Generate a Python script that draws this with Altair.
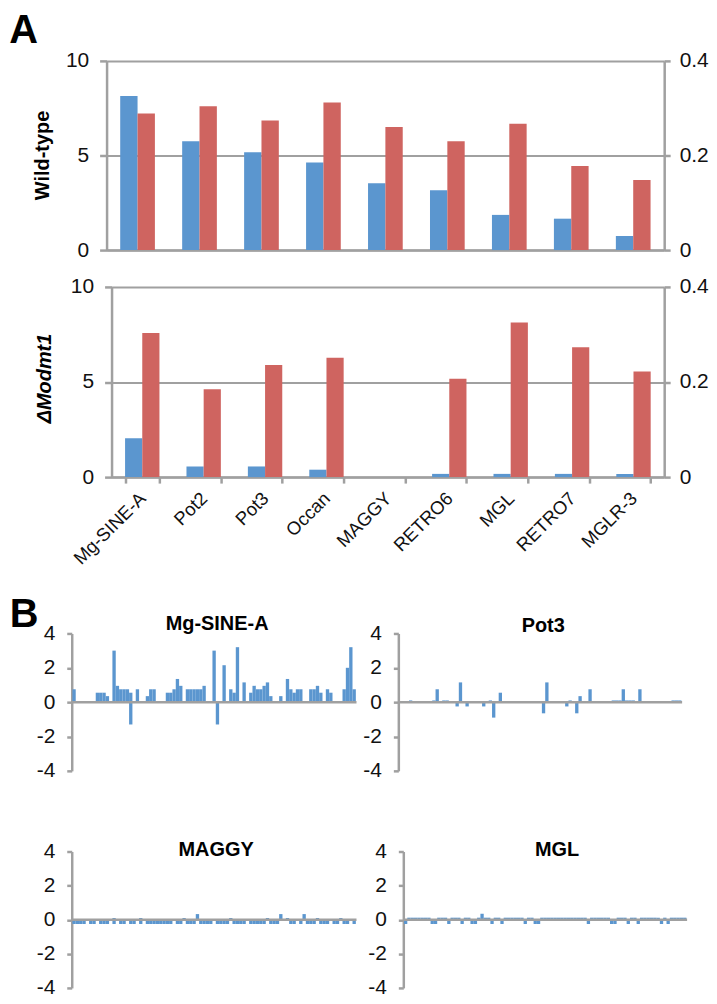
import altair as alt
import pandas as pd

# ---------------- data ----------------
genes = ["Mg-SINE-A", "Pot2", "Pot3", "Occan", "MAGGY", "RETRO6", "MGL", "RETRO7", "MGLR-3"]
wt_blue = [8.15, 5.75, 5.17, 4.63, 3.53, 3.16, 1.86, 1.66, 0.74]
wt_red = [0.289, 0.304, 0.274, 0.312, 0.26, 0.23, 0.267, 0.178, 0.148]
mut_blue = [2.05, 0.56, 0.56, 0.39, 0.0, 0.17, 0.17, 0.17, 0.17]
mut_red = [0.303, 0.185, 0.236, 0.251, 0.0, 0.207, 0.325, 0.273, 0.222]
left_ticks = [0, 5, 10]
right_ticks = [0, 0.2, 0.4]
b_ticks = [-4, -2, 0, 2, 4]

sine_pos = [0.75, 0, 0, 0, 0, 0, 0, 0.55, 0.55, 0.55,
            0.35, 0, 3.0, 0.95, 0.75, 0.75, 0.75, 0.55, 0, 0.75,
            0, 0, 0.35, 0.75, 0.75, 0, 0, 0, 0.55, 0.55,
            0.75, 1.35, 0.95, 0, 0.75, 0.75, 0.75, 0.75, 0.75, 0.95,
            0, 0, 3.0, 0, 0, 2.15, 0, 0.75, 0.55, 3.2,
            0, 1.15, 0, 0.55, 0.95, 0.75, 0.75, 0.95, 1.15, 0.35,
            0, 0, 0.35, 0, 1.35, 0.75, 0.55, 0.75, 0.75, 0,
            0, 0.75, 0.75, 0.95, 0.55, 0, 0.75, 0.55, 0, 0,
            0, 0.75, 2.0, 3.2, 0.75]
sine_neg = [0, 0, 0, 0, 0, 0, 0, 0, 0, 0,
            0, 0, 0, 0, 0, 0, 0, -1.3, 0, 0,
            0, 0, 0, 0, 0, 0, 0, 0, 0, 0,
            0, 0, 0, 0, 0, 0, 0, 0, 0, 0,
            0, 0, 0, -1.3, 0, 0, 0, 0, 0, 0,
            0, 0, 0, 0, 0, 0, 0, 0, 0, 0,
            0, 0, 0, 0, 0, 0, 0, 0, 0, 0,
            0, 0, 0, 0, 0, 0, 0, 0, 0, 0,
            0, 0, 0, 0, 0]

pot3_pos = [0, 0, 0, 0.1, 0, 0, 0, 0, 0, 0,
            0.1, 0.75, 0, 0.1, 0.1, 0, 0, 0, 1.15, 0,
            0, 0, 0, 0, 0, 0, 0, 0.1, 0, 0,
            0.55, 0, 0, 0, 0, 0, 0, 0, 0, 0,
            0, 0, 0, 0, 1.15, 0, 0, 0, 0, 0,
            0, 0.1, 0, 0, 0.35, 0, 0, 0.75, 0, 0,
            0, 0, 0, 0, 0.1, 0.1, 0.1, 0.75, 0.1, 0.1,
            0.1, 0, 0.75, 0, 0, 0, 0, 0, 0, 0,
            0, 0, 0.1, 0.1, 0.1]
pot3_neg = [0, 0, 0, 0, 0, 0, 0, 0, 0, 0,
            0, 0, 0, 0, 0, 0, 0, -0.25, 0, 0,
            -0.25, 0, 0, 0, 0, -0.25, 0, 0, -0.9, 0,
            0, 0, 0, 0, 0, 0, 0, 0, 0, 0,
            0, 0, 0, -0.65, 0, 0, 0, 0, 0, 0,
            -0.25, 0, 0, -0.65, 0, 0, 0, 0, 0, 0,
            0, 0, 0, 0, 0, 0, 0, 0, 0, 0,
            0, 0, 0, 0, 0, 0, 0, 0, 0, 0,
            0, 0, 0, 0, 0]

maggy_pos = [0, 0, 0, 0, 0, 0, 0, 0, 0, 0,
             0, 0, 0.1, 0, 0, 0, 0, 0, 0, 0,
             0.1, 0, 0, 0, 0, 0, 0, 0, 0, 0,
             0, 0, 0, 0.1, 0, 0, 0, 0.33, 0, 0,
             0, 0, 0, 0, 0, 0, 0, 0.1, 0, 0,
             0, 0, 0, 0, 0, 0, 0, 0, 0.1, 0,
             0, 0, 0.33, 0, 0.1, 0, 0, 0, 0, 0.33,
             0, 0, 0, 0.1, 0, 0, 0, 0, 0, 0,
             0.1, 0, 0, 0, 0]
maggy_neg = [-0.25, -0.25, -0.25, -0.25, 0, -0.25, -0.25, 0, -0.25, -0.25,
             -0.25, 0, -0.25, 0, -0.25, -0.25, 0, -0.25, -0.25, 0,
             -0.25, 0, -0.25, -0.25, -0.25, -0.25, -0.25, -0.25, -0.25, -0.25,
             0, -0.25, -0.25, 0, -0.25, -0.25, -0.25, 0, -0.25, -0.25,
             -0.25, -0.25, 0, -0.25, -0.25, -0.25, -0.25, 0, -0.25, -0.25,
             -0.25, -0.25, 0, -0.25, -0.25, -0.25, -0.25, -0.25, 0, -0.25,
             -0.25, -0.25, 0, 0, 0, -0.25, -0.25, 0, -0.25, 0,
             -0.25, -0.25, -0.25, 0, -0.25, -0.25, -0.25, 0, -0.25, -0.25,
             0, -0.25, -0.25, 0, -0.25]

mgl_pos = [0, 0.12, 0.12, 0.12, 0.12, 0.12, 0.12, 0.12, 0, 0,
           0.12, 0.12, 0.12, 0, 0.12, 0.12, 0.12, 0, 0.12, 0.12,
           0, 0, 0.12, 0.35, 0.12, 0.12, 0, 0.12, 0.12, 0,
           0.12, 0.12, 0.12, 0.12, 0.12, 0.12, 0, 0.12, 0.12, 0,
           0, 0.12, 0.12, 0.12, 0.12, 0.12, 0.12, 0.12, 0.12, 0.12,
           0.12, 0.12, 0.12, 0.12, 0.12, 0, 0.12, 0.12, 0.12, 0.12,
           0.12, 0.12, 0, 0, 0.12, 0.12, 0.12, 0, 0.12, 0.12,
           0, 0.12, 0.12, 0.12, 0.12, 0.12, 0.12, 0, 0.12, 0,
           0.12, 0.12, 0.12, 0.12, 0.12]
mgl_neg = [-0.25, 0, 0, 0, 0, 0, 0, 0, -0.25, -0.25,
           0, 0, 0, -0.25, 0, 0, 0, -0.25, 0, 0,
           -0.25, -0.25, 0, 0, 0, 0, -0.25, 0, 0, -0.25,
           0, 0, 0, 0, 0, 0, -0.25, 0, 0, -0.25,
           -0.25, 0, 0, 0, 0, 0, 0, 0, 0, 0,
           0, 0, 0, 0, 0, -0.25, 0, 0, 0, 0,
           0, 0, -0.25, -0.25, 0, 0, 0, -0.25, 0, 0,
           -0.25, 0, 0, 0, 0, 0, 0, -0.25, 0, -0.25,
           0, 0, 0, 0, 0]

for arr in [sine_pos, sine_neg, pot3_pos, pot3_neg, maggy_pos, maggy_neg, mgl_pos, mgl_neg]:
    assert len(arr) == 85, len(arr)

# ---------------- style ----------------
BLUE = "#5b96cf"
RED = "#cf6460"
GREY = "#a0a0a0"
INK = "#111111"
FONT = "Liberation Sans"

AX = dict(domainColor=GREY, domainWidth=2.5, tickColor=GREY, tickWidth=2.5,
          labelFont=FONT, labelFontSize=21, labelColor=INK, title=None, labelOverlap=False)


def one():
    return alt.Data(values=[{"k": 1}])


def box_layer(left, top, width, height, right, bottom):
    # invisible frame that fixes the layout bounds of a panel
    return alt.Chart(one()).mark_rect(fill="transparent", strokeOpacity=0).encode(
        x=alt.value(-left), x2=alt.value(width + right),
        y=alt.value(-top), y2=alt.value(height + bottom))


def spacer():
    return alt.Chart(one()).mark_rect(fill="transparent", strokeOpacity=0).encode(
        x=alt.value(0), x2=alt.value(1), y=alt.value(0), y2=alt.value(1)
    ).properties(width=1, height=1)


def text_layer(text, x, y, size, weight="bold", style="normal", angle=0,
               align="center", baseline="alphabetic"):
    return alt.Chart(one()).mark_text(
        text=text, font=FONT, fontSize=size, fontWeight=weight, fontStyle=style,
        angle=angle, align=align, baseline=baseline, color="#000"
    ).encode(x=alt.value(x), y=alt.value(y))


def panel_a(blue, red, width, height, ytitle, ystyle, tx, ty, box, with_labels, letter=None):
    n = len(genes)
    df = pd.DataFrame({"gene": genes + genes,
                       "series": ["left"] * n + ["right"] * n,
                       "value": blue + red})
    if with_labels:
        xaxis = alt.Axis(title=None, labelAngle=-45, labelFontSize=18.5, labelFont=FONT,
                         labelColor=INK, labelPadding=12, labelAlign="right",
                         labelBaseline="middle", ticks=True, tickBand="extent",
                         tickSize=6, tickColor=GREY, tickWidth=2.5, domainColor=GREY,
                         domainWidth=2.5, labelOverlap=False)
    else:
        xaxis = alt.Axis(title=None, labels=False, ticks=False, domainColor=GREY, domainWidth=2.5)
    x = alt.X("gene:N", sort=genes, axis=xaxis,
              scale=alt.Scale(paddingInner=0.44, paddingOuter=0.22))
    xo = alt.XOffset("series:N", scale=alt.Scale(domain=["left", "right"], paddingInner=0, paddingOuter=0))
    left = alt.Chart(df).transform_filter("datum.series == 'left'").mark_bar(color=BLUE).encode(
        x=x, xOffset=xo,
        y=alt.Y("value:Q", scale=alt.Scale(domain=[0, 10], nice=False),
                axis=alt.Axis(values=left_ticks, grid=True, gridColor=GREY, gridWidth=2,
                              tickSize=7, labelPadding=11, **AX)))
    right = alt.Chart(df).transform_filter("datum.series == 'right'").mark_bar(color=RED).encode(
        x=x, xOffset=xo,
        y=alt.Y("value:Q", scale=alt.Scale(domain=[0, 0.4], nice=False),
                axis=alt.Axis(values=right_ticks, grid=False, orient="right", format="~g",
                              tickSize=6, labelPadding=9, **AX)))
    layers = [left, right, box_layer(*box),
              text_layer(ytitle, tx, ty, 20, style=ystyle, angle=270, baseline="middle")]
    if letter is not None:
        layers.append(letter)
    return alt.layer(*layers).resolve_scale(y="independent").properties(width=width, height=height)


def b_axis():
    return alt.Axis(values=b_ticks, grid=False, tickSize=5, labelPadding=12,
                    labelExpr="datum.value + ''", **AX)


def b_scale():
    return alt.Scale(domain=[-4, 4], nice=False)


def panel_b(name, pos, neg, width, height, box, tdx, ty, letter=None):
    n = len(pos)
    df = pd.DataFrame({"bin": list(range(n)) + list(range(n)), "value": pos + neg})
    bars = alt.Chart(df).mark_bar(color=BLUE).encode(
        x=alt.X("bin:O", axis=None, scale=alt.Scale(paddingInner=0, paddingOuter=0.2)),
        y=alt.Y("value:Q", stack=None, scale=b_scale(), axis=b_axis()))
    zero = alt.Chart(one()).mark_rule(color=GREY, strokeWidth=2.5).encode(
        y=alt.YDatum(0, scale=b_scale(), axis=b_axis()))
    layers = [bars, zero, box_layer(*box), text_layer(name, width / 2 + tdx, ty, 20)]
    if letter is not None:
        layers.append(letter)
    return alt.layer(*layers).properties(width=width, height=height)


# plot-left targets (page px): row1 106.7, row2 111.7, B1/B3 71.3 ; row origin at page 8 + spacer 1
row1 = panel_a(wt_blue, wt_red, 560, 190, "Wild-type", "normal", -64, 95,
               (97.7, 50.3, 560, 190, 0, 12.7), False,
               letter=text_layer("A", -97.7, -50.3, 40, align="left", baseline="top"))
row2 = panel_a(mut_blue, mut_red, 555, 191, "ΔModmt1", "italic", -66.5, 92,
               (102.7, 24, 555, 191, 0, 112.3), True)

b1 = panel_b("Mg-SINE-A", sine_pos, sine_neg, 286, 138, (62.3, 43.3, 286, 138, 2.7, 38), 3, -3,
             letter=text_layer("B", -62.3, -38.3, 40, align="left", baseline="top"))
b2 = panel_b("Pot3", pot3_pos, pot3_neg, 285, 138, (38.3, 43.3, 285, 138, 0, 38), 3, -1)
b3 = panel_b("MAGGY", maggy_pos, maggy_neg, 286, 137, (62.3, 42.3, 286, 137, 2.7, 10), 2, 4.5)
b4 = panel_b("MGL", mgl_pos, mgl_neg, 285, 137, (43.3, 42.3, 285, 137, 0, 10), 12, 5)


def row(*charts):
    return alt.hconcat(spacer(), *charts, spacing=0).resolve_scale(
        x="independent", y="independent", xOffset="independent")


chart = alt.vconcat(row(row1), row(row2), row(b1, b2), row(b3, b4), spacing=0).resolve_scale(
    x="independent", y="independent", xOffset="independent"
).properties(padding=0).configure_view(stroke=None)

chart.save("out.html", embed_options={"renderer": "svg", "actions": False})
